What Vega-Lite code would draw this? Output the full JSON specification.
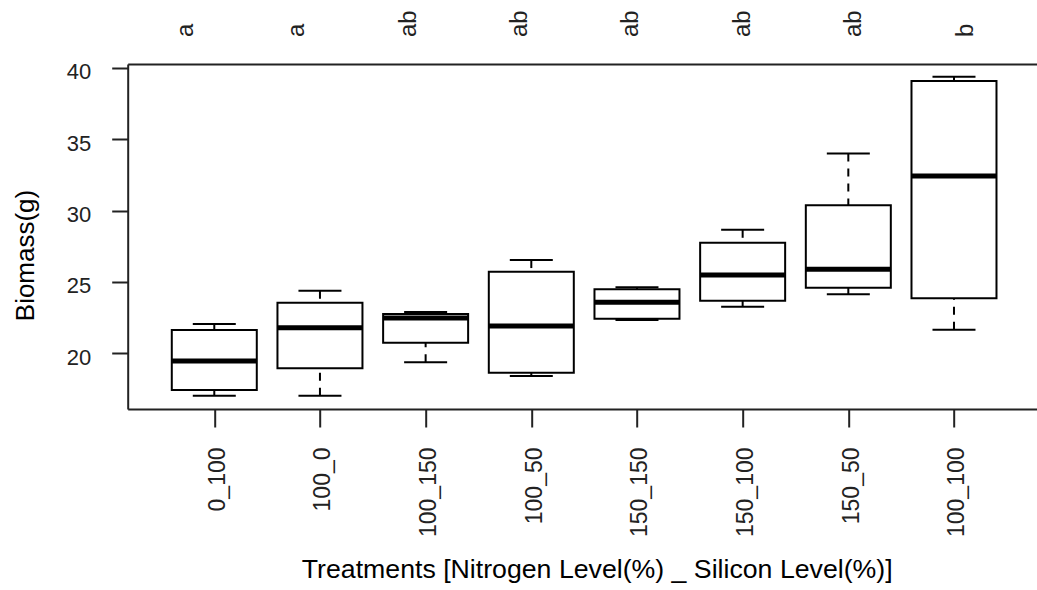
{
  "$schema": "https://vega.github.io/schema/vega-lite/v6.json",
  "width": 909,
  "height": 345,
  "autosize": {"type": "none"},
  "padding": {"left": 127.7, "top": 64, "right": 0, "bottom": 181},
  "background": "white",
  "config": {
    "view": {"stroke": null},
    "font": "Liberation Sans",
    "axis": {
      "grid": false,
      "domainColor": "#222222",
      "domainWidth": 2,
      "tickColor": "#222222",
      "tickWidth": 2,
      "labelColor": "#222222",
      "titleColor": "#000000",
      "labelFont": "Liberation Sans",
      "titleFont": "Liberation Sans",
      "titleFontWeight": "normal"
    },
    "axisY": {
      "tickSize": 16,
      "labelPadding": 21,
      "labelFontSize": 22,
      "labelOffset": 4,
      "titleFontSize": 26,
      "titleX": -89.5,
      "titleY": 191,
      "titleAngle": -90,
      "titleAlign": "center",
      "titleBaseline": "bottom"
    },
    "axisX": {
      "tickSize": 18,
      "labelAngle": -90,
      "labelAlign": "right",
      "labelBaseline": "middle",
      "labelPadding": 20,
      "labelFontSize": 23,
      "labelOffset": 3,
      "titleFontSize": 26.7,
      "titleX": 469,
      "titleY": 168.3,
      "titleAlign": "center",
      "titleBaseline": "alphabetic"
    }
  },
  "data": {
    "values": [
      {"treatment": "0_100", "lower": 17.03, "q1": 17.43, "median": 19.46, "q3": 21.63, "upper": 22.05, "letter": "a"},
      {"treatment": "100_0", "lower": 17.03, "q1": 18.95, "median": 21.79, "q3": 23.54, "upper": 24.38, "letter": "a"},
      {"treatment": "100_150", "lower": 19.37, "q1": 20.74, "median": 22.47, "q3": 22.75, "upper": 22.89, "letter": "ab"},
      {"treatment": "100_50", "lower": 18.41, "q1": 18.64, "median": 21.91, "q3": 25.71, "upper": 26.53, "letter": "ab"},
      {"treatment": "150_150", "lower": 22.33, "q1": 22.42, "median": 23.57, "q3": 24.48, "upper": 24.62, "letter": "ab"},
      {"treatment": "150_100", "lower": 23.26, "q1": 23.68, "median": 25.48, "q3": 27.75, "upper": 28.65, "letter": "ab"},
      {"treatment": "150_50", "lower": 24.13, "q1": 24.59, "median": 25.88, "q3": 30.36, "upper": 34.0, "letter": "ab"},
      {"treatment": "100_100", "lower": 21.65, "q1": 23.85, "median": 32.42, "q3": 39.07, "upper": 39.37, "letter": "b"}
    ]
  },
  "layer": [
    {
      "encoding": {
        "x": {
          "field": "treatment",
          "type": "nominal",
          "sort": null,
          "scale": {"type": "point", "padding": 0.801, "align": 0.5115},
          "title": "Treatments [Nitrogen Level(%) _ Silicon Level(%)]"
        }
      },
      "layer": [
        {
          "mark": {"type": "rule", "strokeDash": [8, 7], "strokeWidth": 2, "color": "black"},
          "encoding": {
            "y": {
              "field": "upper",
              "type": "quantitative",
              "scale": {"domain": [16.1, 40.26], "nice": false, "zero": false},
              "axis": {"values": [20, 25, 30, 35, 40]},
              "title": "Biomass(g)"
            },
            "y2": {"field": "q3"}
          }
        },
        {
          "mark": {"type": "rule", "strokeDash": [8, 7], "strokeWidth": 2, "color": "black"},
          "encoding": {
            "y": {"field": "lower", "type": "quantitative", "title": "Biomass(g)"},
            "y2": {"field": "q1"}
          }
        },
        {
          "mark": {"type": "bar", "width": 85, "fill": "white", "stroke": "black", "strokeWidth": 2},
          "encoding": {
            "y": {"field": "q1", "type": "quantitative", "title": "Biomass(g)"},
            "y2": {"field": "q3"}
          }
        },
        {
          "mark": {"type": "tick", "size": 85, "thickness": 5, "color": "black", "opacity": 1},
          "encoding": {
            "y": {"field": "median", "type": "quantitative", "title": "Biomass(g)"}
          }
        },
        {
          "mark": {"type": "tick", "size": 43, "thickness": 2, "color": "black", "opacity": 1},
          "encoding": {
            "y": {"field": "upper", "type": "quantitative", "title": "Biomass(g)"}
          }
        },
        {
          "mark": {"type": "tick", "size": 43, "thickness": 2, "color": "black", "opacity": 1},
          "encoding": {
            "y": {"field": "lower", "type": "quantitative", "title": "Biomass(g)"}
          }
        }
      ]
    },
    {
      "mark": {"type": "text", "angle": -90, "align": "left", "baseline": "middle", "fontSize": 24, "font": "Liberation Sans", "color": "#222222"},
      "encoding": {
        "x": {
          "field": "treatment",
          "type": "nominal",
          "sort": null,
          "scale": {"type": "point", "padding": 0.5785, "align": 0.45},
          "axis": {"orient": "top", "labels": false, "ticks": false, "title": null, "domain": true}
        },
        "y": {"datum": 42.15, "type": "quantitative", "title": "Biomass(g)"},
        "text": {"field": "letter"}
      }
    }
  ],
  "resolve": {"scale": {"x": "independent"}, "axis": {"x": "independent"}}
}
